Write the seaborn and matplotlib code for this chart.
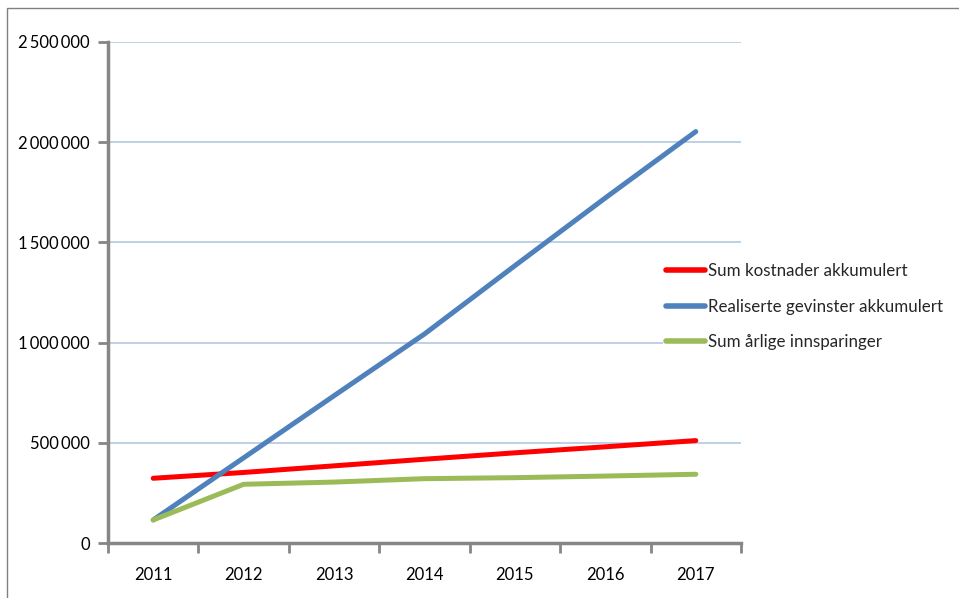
import matplotlib
matplotlib.use("Agg")
import matplotlib.pyplot as plt
import matplotlib.patches as mpatches
from matplotlib.ticker import FuncFormatter, FixedLocator
import seaborn as sns
import pandas as pd

years = ["2011", "2012", "2013", "2014", "2015", "2016", "2017"]
kostnader = [323000, 352000, 385000, 418000, 450000, 480000, 511000]
gevinster = [115000, 425000, 735000, 1043000, 1384000, 1722000, 2053000]
innsparinger = [115000, 293000, 304000, 321000, 326000, 334000, 343000]
series_names = ["Sum kostnader akkumulert", "Realiserte gevinster akkumulert", "Sum årlige innsparinger"]
colors = ["#FF0000", "#4F81BD", "#9BBB59"]
y_ticks = [0, 500000, 1000000, 1500000, 2000000, 2500000]

rows = []
for name, vals in zip(series_names, [kostnader, gevinster, innsparinger]):
    for i, (yr, v) in enumerate(zip(years, vals)):
        rows.append({"pos": i, "year": yr, "value": v, "serie": name})
df = pd.DataFrame(rows)

sns.set_style("white")
plt.rcParams["font.family"] = ["Lato", "DejaVu Sans"]

fig = plt.figure(figsize=(9.59, 5.98), dpi=100)
ax = fig.add_axes([108 / 959, 1 - 543 / 598, (741 - 108) / 959, 501 / 598])

sns.lineplot(data=df, x="pos", y="value", hue="serie", hue_order=series_names,
             palette=colors, linewidth=3.6, ax=ax, legend=True,
             solid_capstyle="round")

ax.set_xlim(-0.5, len(years) - 0.5)
ax.set_ylim(0, 2500000)
ax.set_xlabel("")
ax.set_ylabel("")

ax.set_xticks(range(len(years)))
ax.set_xticklabels(years, fontsize=12)
ax.xaxis.set_minor_locator(FixedLocator([i - 0.5 for i in range(len(years) + 1)]))
ax.tick_params(axis="x", which="major", bottom=True, length=0, pad=17)
ax.tick_params(axis="x", which="minor", bottom=True, length=7, width=2, color="#868686", direction="out")

ax.set_yticks(y_ticks)
ax.yaxis.set_major_formatter(FuncFormatter(lambda v, p: f"{int(v):,}".replace(",", "\u2009")))
ax.tick_params(axis="y", left=True, length=7, width=2, color="#868686", direction="out", labelsize=12, pad=6)
ax.tick_params(axis="both", labelcolor="black")

ax.grid(axis="y", color="#B9CDE5", linewidth=1.3)
ax.set_axisbelow(True)
for s in ["top", "right"]:
    ax.spines[s].set_visible(False)
for s in ["left", "bottom"]:
    ax.spines[s].set_color("#868686")
    ax.spines[s].set_linewidth(2.5)

leg = ax.legend(loc="upper left", bbox_to_anchor=(663 / 959, 1 - 260 / 598),
                bbox_transform=fig.transFigure, frameon=True, fontsize=12.2,
                handlelength=2.3, handletextpad=0.15, labelspacing=1.13,
                borderaxespad=0, borderpad=0.2, fancybox=False,
                facecolor="white", edgecolor="none", framealpha=1.0)
leg.set_zorder(10)
for line in leg.get_lines():
    line.set_linewidth(4)

rect = mpatches.Rectangle((7 / 959, -0.1), 1.0, (598 - 8) / 598 + 0.1,
                          transform=fig.transFigure, fill=False,
                          edgecolor="#808080", linewidth=1, clip_on=False)
fig.patches.append(rect)

fig.savefig("out.png", dpi=100)
